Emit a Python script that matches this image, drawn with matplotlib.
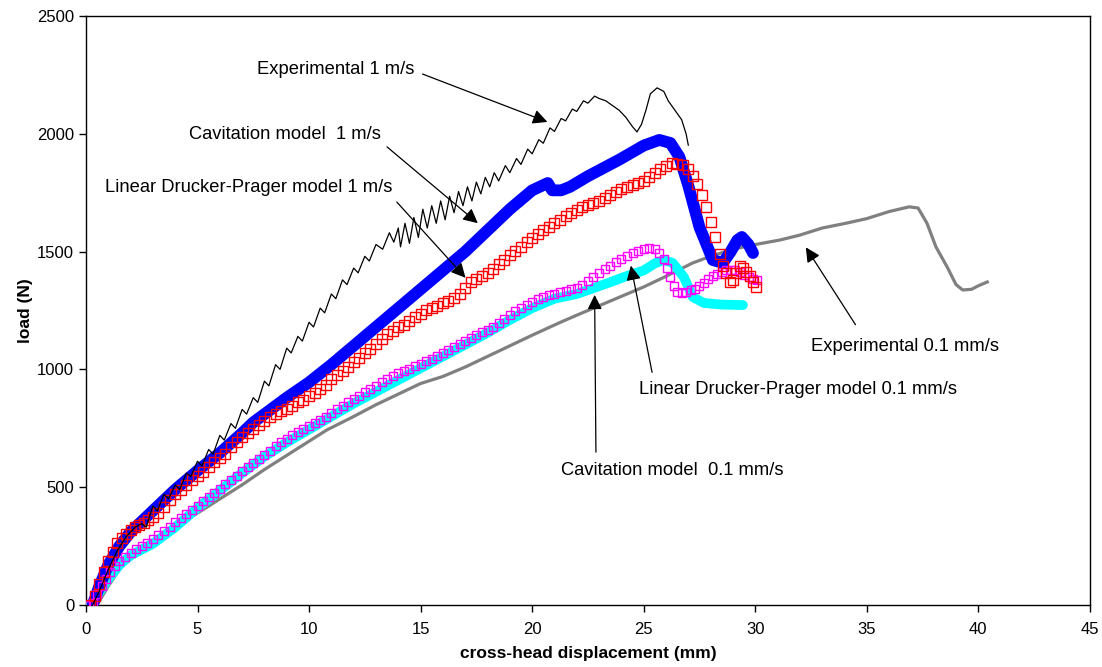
import matplotlib.pyplot as plt

plt.rcParams["font.family"] = ["Liberation Sans", "DejaVu Sans"]

# Experimental 1 m/s (black, noisy)
x_exp1 = [0.3, 0.6, 1.0, 1.4, 1.8, 2.2, 2.5, 2.7, 3.0, 3.2, 3.5, 3.7, 4.0, 4.2, 4.5, 4.7,
          5.0, 5.2, 5.5, 5.7, 6.0, 6.2, 6.5, 6.7, 7.0, 7.2, 7.5, 7.7, 8.0, 8.2, 8.5, 8.7,
          9.0, 9.2, 9.5, 9.7, 10.0, 10.2, 10.5, 10.7, 11.0, 11.2, 11.5, 11.7, 12.0, 12.2,
          12.5, 12.7, 13.0, 13.3, 13.6, 13.8, 14.0, 14.1, 14.3, 14.5, 14.7, 14.9, 15.1,
          15.3, 15.5, 15.7, 15.9, 16.1, 16.3, 16.5, 16.7, 16.9, 17.1, 17.3, 17.5, 17.7,
          17.9, 18.1, 18.3, 18.5, 18.8, 19.0, 19.3, 19.5, 19.8, 20.0, 20.3, 20.5, 20.8,
          21.0, 21.3, 21.5, 21.8, 22.0, 22.3, 22.5, 22.8, 23.0, 23.3, 23.6, 23.9, 24.2,
          24.5, 24.7, 24.9, 25.1, 25.3, 25.6, 25.9, 26.1, 26.4, 26.7, 26.9, 27.0]
y_exp1 = [0, 60, 150, 230, 290, 330, 345, 330, 420, 400, 470, 450, 510, 490, 560, 545,
          610, 590, 660, 640, 720, 700, 770, 750, 830, 810, 880, 860, 950, 930, 1020, 1000,
          1090, 1070, 1140, 1120, 1200, 1180, 1260, 1240, 1320, 1300, 1380, 1360, 1430, 1410,
          1480, 1460, 1530, 1510, 1580, 1540, 1600, 1520, 1620, 1535, 1645, 1560, 1680,
          1600, 1695, 1620, 1715, 1635, 1735, 1665, 1755, 1695, 1775, 1715, 1795, 1745,
          1815, 1775, 1835, 1800, 1865, 1835, 1895, 1870, 1935, 1915, 1975, 1960, 2025,
          2010, 2065, 2055, 2105, 2095, 2140, 2130, 2160, 2150, 2140, 2120, 2100, 2070,
          2030, 2008, 2040, 2100, 2170, 2195, 2180, 2140, 2100, 2060, 2000, 1952]

# Cavitation model 1 m/s (blue)
x_cav1 = [0.3, 0.6, 1.0, 1.5, 2.0, 3.0, 4.0, 5.0, 6.0, 7.0, 7.5, 8.0, 9.0, 10.0, 11.0,
          12.0, 13.0, 14.0, 15.0, 16.0, 17.0, 18.0, 19.0, 20.0, 20.7, 20.9, 21.3, 21.7,
          22.5, 23.9, 25.0, 25.7, 26.2, 26.6, 27.0, 27.5, 28.1, 28.55, 28.9, 29.2, 29.4,
          29.7, 29.9]
y_cav1 = [0, 80, 170, 250, 310, 400, 490, 570, 645, 730, 775, 810, 880, 945, 1020,
          1100, 1180, 1260, 1340, 1420, 1500, 1590, 1680, 1760, 1791, 1760, 1760, 1775,
          1820, 1890, 1950, 1974, 1961, 1902, 1780, 1604, 1464, 1452, 1500, 1549, 1562,
          1530, 1494]

# Linear Drucker-Prager model 1 m/s (red squares)
x_ldp1 = [0.2, 0.4, 0.6, 0.8, 1.0, 1.2, 1.4, 1.6, 1.8, 2.0, 2.2, 2.4, 2.6, 2.8, 3.0, 3.25,
          3.5, 3.75, 4.0, 4.25, 4.5, 4.75, 5.0, 5.25, 5.5, 5.75, 6.0, 6.25, 6.5, 6.75, 7.0,
          7.25, 7.5, 7.75, 8.0, 8.25, 8.5, 8.75, 9.0, 9.25, 9.5, 9.75, 10.0, 10.25, 10.5,
          10.75, 11.0, 11.25, 11.5, 11.75, 12.0, 12.25, 12.5, 12.75, 13.0, 13.25, 13.5,
          13.75, 14.0, 14.25, 14.5, 14.75, 15.0, 15.25, 15.5, 15.75, 16.0, 16.25, 16.5,
          16.75, 17.0, 17.25, 17.5, 17.75, 18.0, 18.25, 18.5, 18.75, 19.0, 19.25, 19.5,
          19.75, 20.0, 20.25, 20.5, 20.75, 21.0, 21.25, 21.5, 21.75, 22.0, 22.25, 22.5,
          22.75, 23.0, 23.25, 23.5, 23.75, 24.0, 24.25, 24.5, 24.75, 25.0, 25.25, 25.5,
          25.75, 26.0, 26.25, 26.5, 26.75, 27.0, 27.2, 27.4, 27.6, 27.8, 28.0, 28.2, 28.4,
          28.55, 28.7, 28.85, 29.0, 29.15, 29.3, 29.45, 29.6, 29.75, 29.9, 30.05]
y_ldp1 = [0, 40, 90, 140, 185, 225, 263, 285, 300, 318, 330, 340, 350, 360, 372, 392,
          415, 445, 470, 490, 510, 530, 548, 565, 585, 605, 625, 640, 670, 690, 712,
          730, 748, 765, 782, 798, 812, 822, 833, 845, 860, 872, 885, 898, 915,
          935, 958, 975, 995, 1012, 1033, 1050, 1068, 1088, 1108, 1128, 1150,
          1165, 1180, 1190, 1205, 1222, 1236, 1250, 1260, 1268, 1280, 1292, 1304,
          1320, 1345, 1372, 1385, 1395, 1409, 1428, 1448, 1465, 1485, 1502, 1520,
          1540, 1558, 1575, 1590, 1604, 1620, 1636, 1650, 1662, 1675, 1688, 1698,
          1708, 1716, 1728, 1740, 1752, 1764, 1774, 1783, 1792, 1800, 1815, 1832,
          1850, 1865, 1876, 1872, 1866, 1852, 1820, 1785, 1740, 1690, 1625, 1560, 1490,
          1440, 1410, 1370, 1380, 1410, 1440, 1430, 1415, 1395, 1370, 1350]

# Cavitation model 0.1 mm/s (cyan)
x_cav01 = [0.2, 0.5, 1.0, 1.5, 2.0, 3.0, 4.0, 5.0, 6.0, 7.0, 8.0, 9.0, 10.0, 11.0, 12.0,
           13.0, 14.0, 15.0, 16.0, 17.0, 18.0, 19.0, 20.0, 21.0, 22.0, 22.9, 23.5, 24.2,
           25.0, 25.5, 25.9, 26.3, 26.8, 27.2, 27.7, 28.5, 29.45]
y_cav01 = [0, 40, 110, 170, 210, 260, 330, 412, 485, 560, 630, 690, 745, 800, 855,
           905, 955, 1005, 1055, 1105, 1155, 1210, 1260, 1300, 1320, 1350, 1370, 1395,
           1420, 1450, 1464, 1452, 1392, 1307, 1282, 1275, 1273]

# Linear Drucker-Prager model 0.1 mm/s (magenta squares)
x_ldp01 = [0.0, 0.15, 0.3, 0.5, 0.7, 0.9, 1.1, 1.3, 1.5, 1.75, 2.0, 2.25, 2.5, 2.75, 3.0,
           3.25, 3.5, 3.75, 4.0, 4.25, 4.5, 4.75, 5.0, 5.25, 5.5, 5.75, 6.0, 6.25, 6.5,
           6.75, 7.0, 7.25, 7.5, 7.75, 8.0, 8.25, 8.5, 8.75, 9.0, 9.25, 9.5, 9.75, 10.0,
           10.25, 10.5, 10.75, 11.0, 11.25, 11.5, 11.75, 12.0, 12.25, 12.5, 12.75, 13.0,
           13.25, 13.5, 13.75, 14.0, 14.25, 14.5, 14.75, 15.0, 15.25, 15.5, 15.75, 16.0,
           16.25, 16.5, 16.75, 17.0, 17.25, 17.5, 17.75, 18.0, 18.25, 18.5, 18.75, 19.0,
           19.25, 19.5, 19.75, 20.0, 20.25, 20.5, 20.75, 21.0, 21.25, 21.5, 21.75, 22.0,
           22.25, 22.5, 22.75, 23.0, 23.25, 23.5, 23.75, 24.0, 24.25, 24.5, 24.75, 25.0,
           25.25, 25.5, 25.7, 25.9, 26.05, 26.2, 26.35, 26.5, 26.7, 26.9, 27.1, 27.3, 27.5,
           27.7, 27.9, 28.1, 28.3, 28.5, 28.7, 28.9, 29.1, 29.3, 29.5, 29.7, 29.9, 30.1]
y_ldp01 = [0, 0, 10, 45, 80, 110, 140, 165, 185, 205, 222, 238, 252, 265, 280,
           298, 315, 333, 352, 368, 385, 403, 422, 440, 458, 476, 494, 512, 530,
           548, 567, 585, 603, 620, 637, 655, 673, 690, 705, 720, 735, 748, 760,
           772, 785, 800, 815, 830, 845, 860, 875, 888, 902, 916, 930,
           945, 960, 972, 983, 993, 1003, 1013, 1023, 1034, 1045, 1057, 1070,
           1082, 1095, 1108, 1120, 1133, 1145, 1157, 1168, 1182, 1198, 1215, 1232,
           1248, 1262, 1275, 1288, 1298, 1307, 1315, 1322, 1328, 1334, 1340, 1347,
           1360, 1376, 1392, 1408, 1424, 1440, 1455, 1468, 1480, 1492, 1503, 1512,
           1516, 1510, 1495, 1470, 1430, 1392, 1355, 1330, 1325, 1330, 1335, 1342, 1355,
           1368, 1382, 1395, 1405, 1414, 1420, 1422, 1420, 1412, 1402, 1392, 1385, 1380]

# Experimental 0.1 mm/s (gray)
x_exp01 = [0.5, 1.0, 1.5, 2.0, 2.5, 3.0, 4.0, 5.0, 6.0, 7.0, 8.0, 9.0, 10.0, 10.8, 12.0,
           13.0, 14.0, 15.0, 16.0, 17.0, 18.0, 19.0, 20.0, 21.2, 22.0, 23.0, 24.0, 25.0,
           26.0, 27.2, 28.0, 29.0, 30.0, 31.1, 32.0, 33.0, 34.1, 35.0, 36.0, 36.9, 37.3,
           37.7, 38.1, 38.6, 39.0, 39.3, 39.7, 40.0, 40.4]
y_exp01 = [0, 80, 150, 210, 250, 276, 330, 390, 450, 510, 575, 635, 695, 743, 800,
           850, 895, 940, 970, 1010, 1055, 1100, 1145, 1197, 1230, 1270, 1310, 1350,
           1395, 1452, 1480, 1510, 1530, 1549, 1570, 1600, 1621, 1640, 1670, 1690, 1685,
           1620, 1520, 1435, 1360, 1337, 1340, 1355, 1371]

# labels: text, text position, arrow start, arrow tip
labels = ["Experimental 1 m/s", "Cavitation model  1 m/s", "Linear Drucker-Prager model 1 m/s",
          "Experimental 0.1 mm/s", "Linear Drucker-Prager model 0.1 mm/s", "Cavitation model  0.1 mm/s"]
label_pos = [(11.2, 2271), (8.9, 1995), (7.3, 1770), (36.7, 1099), (31.9, 913), (26.3, 569)]
arrow_from = [(14.97, 2258), (13.4, 1952), (13.85, 1719), (34.56, 1180), (25.4, 976), (22.86, 637)]
arrow_to = [(20.8, 2046), (17.66, 1613), (17.1, 1380), (32.2, 1528), (24.4, 1452), (22.8, 1328)]

fig = plt.figure(figsize=(11.02, 6.67), dpi=100)
ax = fig.add_axes([0.078, 0.093, 0.911, 0.883])

ax.plot(x_exp01, y_exp01, color="#808080", lw=2.3, zorder=2)
ax.plot(x_cav01, y_cav01, color="cyan", lw=7, solid_capstyle="round", zorder=3)
ax.plot(x_ldp01, y_ldp01, color="magenta", lw=0, marker="s", ms=6.3, mfc="none", mec="magenta",
        mew=1, zorder=4)
ax.plot(x_cav1, y_cav1, color="#0000ff", lw=8.5, solid_capstyle="round", zorder=3)
ax.plot(x_ldp1, y_ldp1, color="red", lw=0, marker="s", ms=7.3, mfc="none", mec="red",
        mew=1, zorder=4)
ax.plot(x_exp1, y_exp1, color="black", lw=0.9, zorder=5)

for txt, p, a, b in zip(labels, label_pos, arrow_from, arrow_to):
    ax.text(p[0], p[1], txt, ha="center", va="center", fontsize=13.2)
    ax.annotate("", xy=b, xytext=a,
                arrowprops=dict(arrowstyle="-|>", color="black", lw=0.9, mutation_scale=22))

ax.set_xlim(0, 45)
ax.set_ylim(0, 2500)
ax.set_xticks(range(0, 46, 5))
ax.set_yticks(range(0, 2501, 500))
ax.tick_params(direction="out", length=5, labelsize=12, width=1)
ax.tick_params(axis="x", pad=7)
ax.set_xlabel("cross-head displacement (mm)", fontsize=12.5, fontweight="bold", labelpad=7)
ax.set_ylabel("load (N)", fontsize=12.5, fontweight="bold", labelpad=3)
for s in ax.spines.values():
    s.set_linewidth(1)

plt.savefig("out.png", dpi=100)
